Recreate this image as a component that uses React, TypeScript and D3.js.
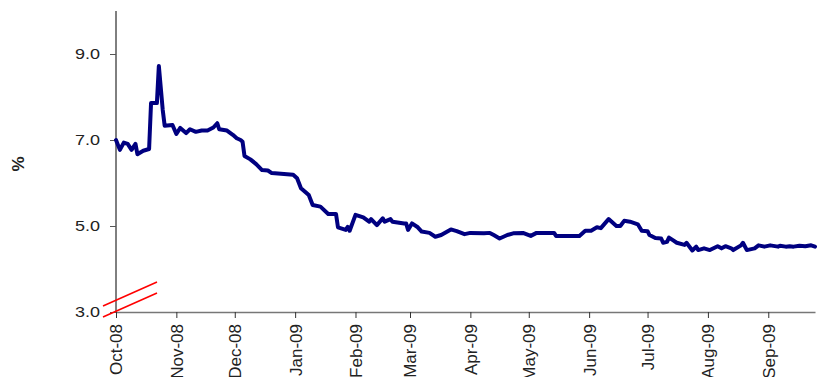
import React, { useEffect, useRef } from 'react';
import * as d3 from 'd3';

// readings (date, %)
const dates = [
  '2008-10-01', '2008-10-03', '2008-10-05', '2008-10-07', '2008-10-09', '2008-10-11', '2008-10-12', '2008-10-15',
  '2008-10-18', '2008-10-19', '2008-10-22', '2008-10-23', '2008-10-25', '2008-10-26', '2008-10-30', '2008-11-01',
  '2008-11-03', '2008-11-06', '2008-11-08', '2008-11-11', '2008-11-14', '2008-11-17', '2008-11-20', '2008-11-22',
  '2008-11-23', '2008-11-27', '2008-11-30', '2008-12-02', '2008-12-04', '2008-12-05', '2008-12-06', '2008-12-09',
  '2008-12-12', '2008-12-15', '2008-12-18', '2008-12-20', '2008-12-31', '2009-01-02', '2009-01-04', '2009-01-08',
  '2009-01-10', '2009-01-14', '2009-01-18', '2009-01-22', '2009-01-23', '2009-01-27', '2009-01-28', '2009-01-29',
  '2009-02-01', '2009-02-05', '2009-02-08', '2009-02-09', '2009-02-12', '2009-02-15', '2009-02-16', '2009-02-19',
  '2009-02-20', '2009-02-26', '2009-02-27', '2009-02-28', '2009-03-02', '2009-03-05', '2009-03-07', '2009-03-11',
  '2009-03-14', '2009-03-17', '2009-03-22', '2009-03-25', '2009-03-29', '2009-04-01', '2009-04-08', '2009-04-11',
  '2009-04-13', '2009-04-16', '2009-04-20', '2009-04-23', '2009-04-28', '2009-05-02', '2009-05-05', '2009-05-14',
  '2009-05-15', '2009-05-22', '2009-05-27', '2009-05-30', '2009-06-02', '2009-06-05', '2009-06-07', '2009-06-11',
  '2009-06-15', '2009-06-17', '2009-06-19', '2009-06-22', '2009-06-26', '2009-06-28', '2009-07-01', '2009-07-02',
  '2009-07-05', '2009-07-08', '2009-07-09', '2009-07-11', '2009-07-12', '2009-07-14', '2009-07-16', '2009-07-20',
  '2009-07-21', '2009-07-24', '2009-07-26', '2009-07-27', '2009-07-30', '2009-08-02', '2009-08-06', '2009-08-08',
  '2009-08-10', '2009-08-13', '2009-08-14', '2009-08-18', '2009-08-19', '2009-08-21', '2009-08-25', '2009-08-27',
  '2009-08-30', '2009-09-02', '2009-09-06', '2009-09-07', '2009-09-10', '2009-09-12', '2009-09-14', '2009-09-17',
  '2009-09-20', '2009-09-23', '2009-09-25',
];

const rates = [
  7.00, 6.77, 6.94, 6.91, 6.77, 6.91, 6.67, 6.75,
  6.79, 7.86, 7.86, 8.72, 7.70, 7.33, 7.35, 7.14,
  7.28, 7.16, 7.25, 7.19, 7.22, 7.22, 7.29, 7.39,
  7.25, 7.22, 7.12, 7.04, 7.00, 6.96, 6.63, 6.55,
  6.44, 6.30, 6.29, 6.23, 6.19, 6.11, 5.88, 5.72,
  5.49, 5.45, 5.28, 5.28, 4.97, 4.91, 4.98, 4.89,
  5.26, 5.20, 5.10, 5.16, 5.02, 5.18, 5.10, 5.16,
  5.10, 5.06, 5.06, 4.91, 5.06, 4.97, 4.87, 4.84,
  4.75, 4.79, 4.92, 4.88, 4.81, 4.84, 4.83, 4.84,
  4.79, 4.71, 4.79, 4.83, 4.84, 4.77, 4.84, 4.84,
  4.77, 4.77, 4.77, 4.89, 4.89, 4.97, 4.95, 5.16,
  5.00, 5.00, 5.12, 5.10, 5.04, 4.89, 4.88, 4.79,
  4.72, 4.71, 4.61, 4.63, 4.73, 4.67, 4.61, 4.56,
  4.61, 4.43, 4.52, 4.44, 4.48, 4.44, 4.53, 4.48,
  4.53, 4.48, 4.44, 4.55, 4.61, 4.44, 4.48, 4.55,
  4.52, 4.55, 4.52, 4.54, 4.52, 4.53, 4.52, 4.54,
  4.53, 4.55, 4.52,
];

const yTicks = [3, 5, 7, 9];
const xStart = '2008-10-01';
const xEnd = '2009-09-25';

export default function App() {
  const ref = useRef<SVGSVGElement>(null);

  useEffect(() => {
    if (!ref.current) return;
    const svg = d3.select(ref.current);
    svg.selectAll('*').remove();

    const parse = d3.timeParse('%Y-%m-%d');
    const data = dates.map((d, i) => ({ date: parse(d) as Date, v: rates[i] }));

    const x = d3.scaleTime()
      .domain([parse(xStart) as Date, parse(xEnd) as Date])
      .range([116, 815]);
    const y = d3.scaleLinear().domain([3, 10]).range([312, 11]);

    const font = 'Arial, "Liberation Sans", sans-serif';

    // y axis (labels a bit wide, like the original)
    const yAxis = svg.append('g')
      .attr('transform', 'translate(116,0)')
      .call(d3.axisLeft(y).tickValues(yTicks).tickSize(6).tickFormat(d3.format('.1f')));
    yAxis.select('.domain').attr('stroke', '#000').attr('d', `M0,${y(10)}V${y(3)}`);
    yAxis.selectAll('.tick line').attr('stroke', '#555');
    yAxis.selectAll('.tick text')
      .attr('fill', '#222')
      .attr('x', -16 / 1.2)
      .attr('transform', 'scale(1.2,1)')
      .style('font-family', font)
      .style('font-size', '15px');

    // x axis
    const xAxis = svg.append('g')
      .attr('transform', `translate(0,${y(3)})`)
      .call(d3.axisBottom(x).ticks(d3.timeMonth.every(1)).tickSize(6).tickSizeOuter(0)
        .tickFormat(d => d3.timeFormat('%b-%y')(d as Date)));
    xAxis.select('.domain').attr('stroke', '#777').attr('stroke-width', 1.5);
    xAxis.selectAll('.tick line').attr('stroke', '#333');
    xAxis.selectAll('.tick text')
      .attr('fill', '#222')
      .attr('transform', 'rotate(-90)')
      .attr('x', -12)
      .attr('y', 0)
      .attr('dy', '0.35em')
      .style('text-anchor', 'end')
      .style('font-family', font)
      .style('font-size', '17px');

    // series line
    const line = d3.line<{ date: Date; v: number }>()
      .x(d => x(d.date))
      .y(d => y(d.v));
    svg.append('path')
      .datum(data)
      .attr('d', line)
      .attr('fill', 'none')
      .attr('stroke', '#000080')
      .attr('stroke-width', 4)
      .attr('stroke-linejoin', 'round')
      .attr('stroke-linecap', 'round');

    // axis break marks
    [0, 11].forEach(off => {
      svg.append('line')
        .attr('x1', 103).attr('y1', 306 + off)
        .attr('x2', 157).attr('y2', 282 + off)
        .attr('stroke', '#ff0000')
        .attr('stroke-width', 1.5);
    });

    // unit label
    svg.append('text')
      .attr('transform', 'translate(18,164) rotate(-90)')
      .attr('text-anchor', 'middle')
      .attr('dy', '0.35em')
      .style('font-family', font)
      .style('font-weight', 'bold')
      .style('font-size', '17px')
      .attr('fill', '#222')
      .text('%');
  }, []);

  return (
    <svg
      ref={ref}
      width={818}
      height={377}
      style={{ position: 'absolute', left: 0, top: 0, background: '#fff' }}
    />
  );
}
